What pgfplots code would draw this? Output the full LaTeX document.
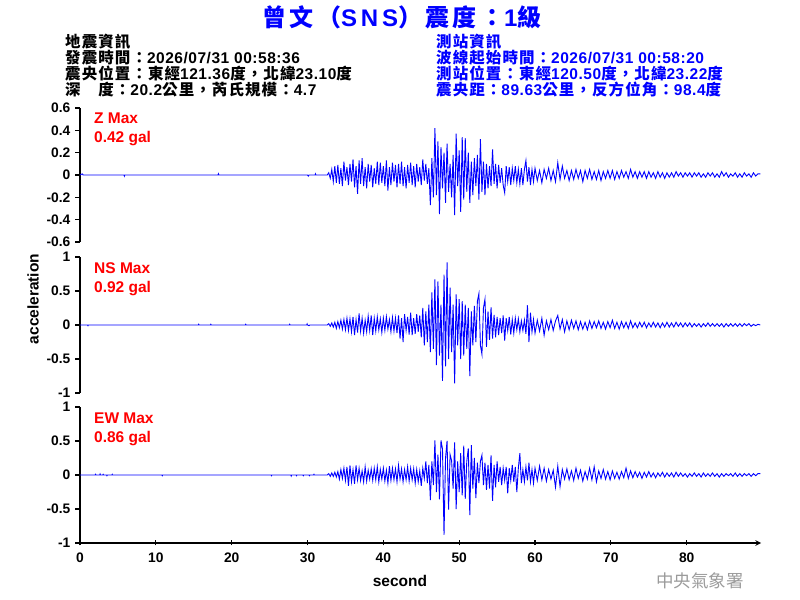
\documentclass[border=0pt]{standalone}
\usepackage{fontspec}
\setmainfont{Liberation Sans}
\newfontfamily\cjk[LetterSpace=7]{Noto Sans CJK TC}
\newfontfamily\wcjk{Noto Sans CJK TC}
\newfontfamily\tcjk[LetterSpace=14]{Noto Sans CJK TC}
\newfontfamily\lat[LetterSpace=3.4]{Liberation Sans}
\newfontfamily\tlat[LetterSpace=16]{Liberation Sans}
\usepackage{pgfplots}
\pgfplotsset{compat=1.18}
\definecolor{wm}{RGB}{155,155,155}
\pgfplotsset{
 seis/.style={
  scale only axis, width=681bp, xmin=0, xmax=89.8,
  axis y line=left, axis line style={-, line width=1.5bp, black},
  tick align=outside, major tick length=5bp,
  tick style={line width=1.2bp, black},
  yticklabel style={font=\bfseries\fontsize{13.8bp}{14bp}\selectfont, inner sep=1.5bp, xshift=-3bp},
  xticklabel style={font=\bfseries\fontsize{13.8bp}{14bp}\selectfont, yshift=-4bp},
  /pgf/number format/assume math mode=true,
 },
 trace/.style={blue, line width=0.9bp, mark=none},
}
\begin{document}
\begin{tikzpicture}[x=1bp,y=1bp]
\path[use as bounding box] (0,0) rectangle (800,600);
% ---------- Z ----------
\begin{axis}[seis, at={(80bp,358bp)}, anchor=south west, height=134bp,
  axis x line=none, ymin=-0.6, ymax=0.6, ytick={-0.6,-0.4,-0.2,0,0.2,0.4,0.6}]
\addplot[trace] coordinates {
(0,0)(0.3,0.01)(0.4,0)(5.8,0)(5.85,-0.01)(5.9,0)(18.2,0)(18.25,0.01)(18.3,0)(30.0,0)(30.1,-0.01)(30.2,0)(31.0,0)(31.05,0.01)(31.1,0)(32.6,0)
(32.8,0.02)(33.0,-0.03)(33.2,0.05)(33.4,-0.06)(33.6,0.08)(33.8,-0.07)(34.0,0.09)(34.2,-0.08)(34.4,0.06)(34.6,-0.10)
(34.8,0.12)(35.0,-0.05)(35.2,0.07)(35.4,-0.09)(35.6,0.10)(35.8,-0.06)(36.0,0.14)(36.2,-0.11)(36.4,0.08)(36.6,-0.17)
(36.8,0.13)(37.0,-0.08)(37.2,0.15)(37.4,-0.10)(37.6,0.07)(37.8,-0.12)(38.0,0.10)(38.2,-0.06)(38.4,0.09)(38.6,-0.11)
(38.8,0.06)(39.0,-0.08)(39.2,0.12)(39.4,-0.09)(39.6,0.11)(39.8,-0.07)(40.0,0.08)(40.2,-0.10)(40.4,0.13)(40.6,-0.14)
(40.8,0.07)(41.0,-0.09)(41.2,0.11)(41.4,-0.06)(41.6,0.09)(41.8,-0.11)(42.0,0.10)(42.2,-0.08)(42.4,0.12)(42.6,-0.10)
(42.8,0.07)(43.0,-0.12)(43.2,0.09)(43.4,-0.07)(43.6,0.11)(43.8,-0.09)(44.0,0.08)(44.2,-0.11)(44.4,0.10)(44.6,-0.06)
(44.8,0.07)(45.0,-0.09)(45.2,0.14)(45.4,-0.05)(45.6,0.10)(45.8,-0.08)(46.0,0.06)(46.2,-0.27)(46.4,0.15)(46.6,-0.20)
(46.8,0.42)(47.0,-0.18)(47.2,0.30)(47.4,-0.35)(47.6,0.25)(47.8,-0.12)(48.0,0.20)(48.2,-0.25)(48.4,0.28)(48.6,-0.15)
(48.8,0.10)(49.0,-0.20)(49.2,0.18)(49.4,-0.36)(49.6,0.37)(49.8,-0.10)(50.0,0.22)(50.2,-0.33)(50.4,0.34)(50.6,-0.22)
(50.8,0.33)(51.0,-0.15)(51.2,0.20)(51.4,-0.25)(51.6,0.12)(51.8,-0.18)(52.0,0.15)(52.2,-0.10)(52.4,0.18)(52.6,-0.22)
(52.8,0.32)(53.0,-0.15)(53.2,0.12)(53.4,-0.18)(53.6,0.10)(53.8,-0.12)(54.0,0.08)(54.2,-0.10)(54.4,0.23)(54.6,-0.08)
(54.8,0.10)(55.0,-0.12)(55.2,0.09)(55.4,-0.07)(55.6,0.06)(55.8,-0.09)(56.0,-0.16)(56.2,0.08)(56.4,-0.06)(56.6,0.07)
(56.8,-0.09)(57.0,0.06)(57.2,-0.05)(57.4,0.08)(57.6,-0.07)(57.8,0.05)(58.0,-0.08)(58.2,0.06)(58.4,-0.09)(58.6,0.05)
(58.8,0.13)(59.0,-0.06)(59.2,0.07)(59.4,-0.09)(59.6,0.05)(59.8,-0.06)(60.0,0.06)
(60.3,-0.05)(60.6,0.04)(60.9,-0.07)(61.2,0.05)(61.5,-0.03)(61.8,0.06)(62.1,-0.05)(62.4,0.04)(62.7,-0.06)(63.0,0.11)
(63.3,-0.04)(63.6,0.08)(63.9,-0.03)(64.2,0.04)(64.5,-0.05)(64.8,0.04)(65.1,-0.04)(65.4,0.05)(65.7,-0.03)(66.0,0.04)
(66.3,-0.06)(66.6,0.04)(66.9,-0.03)(67.2,0.05)(67.5,-0.04)(67.8,0.03)(68.1,-0.04)(68.4,0.04)(68.7,-0.05)(69.0,0.03)
(69.3,-0.03)(69.6,0.04)(69.9,-0.03)(70.2,0.04)(70.5,-0.04)(70.8,0.03)(71.1,-0.03)(71.4,0.04)(71.7,-0.02)(72.0,0.03)
(72.3,-0.03)(72.6,0.05)(72.9,-0.02)(73.2,0.03)(73.5,-0.03)(73.8,0.03)(74.1,-0.02)(74.4,0.03)(74.7,-0.03)(75.0,0.03)
(75.3,-0.02)(75.6,0.02)(75.9,-0.03)(76.2,0.03)(76.5,-0.02)(76.8,0.02)(77.1,-0.03)(77.4,0.02)(77.7,-0.02)(78.0,0.02)
(78.3,-0.02)(78.6,0.03)(78.9,-0.01)(79.2,0.02)(79.5,-0.02)(79.8,0.02)(80.1,-0.01)(80.4,0.02)(80.7,-0.02)(81.0,0.02)
(81.3,-0.01)(81.6,0.02)(81.9,-0.02)(82.2,0.01)(82.5,-0.02)(82.8,0.02)(83.1,-0.01)(83.4,0.02)(83.7,-0.02)(84.0,0.01)
(84.3,-0.02)(84.6,0.03)(84.9,-0.01)(85.2,0.02)(85.5,-0.02)(85.8,0.01)(86.1,-0.01)(86.4,0.02)(86.7,-0.02)(87.0,0.01)
(87.3,-0.02)(87.6,0.02)(87.9,-0.01)(88.2,0.01)(88.5,-0.02)(88.8,0.02)(89.1,-0.01)(89.4,0.01)(89.7,0.01)
};
\end{axis}
% ---------- NS ----------
\begin{axis}[seis, at={(80bp,207bp)}, anchor=south west, height=136bp,
  axis x line=none, ymin=-1, ymax=1, ytick={-1,-0.5,0,0.5,1}]
\addplot[trace] coordinates {
(0,0)(1.0,0)(1.05,-0.01)(1.1,0)(15.6,0)(15.65,0.01)(15.7,0)(17.2,0)(17.25,0.01)(17.3,0)(21.8,0)(21.85,0.01)(21.9,0)
(27.6,0)(27.65,0.01)(27.7,0)(29.9,0)(29.95,0.015)(30.0,0)(30.2,-0.01)(30.3,0)(32.6,0)
(32.8,0.02)(33.0,-0.02)(33.2,0.03)(33.4,-0.03)(33.6,0.04)(33.8,-0.05)(34.0,0.05)(34.2,-0.04)(34.4,0.07)(34.6,-0.06)
(34.8,0.08)(35.0,-0.07)(35.2,0.10)(35.4,-0.08)(35.6,0.09)(35.8,-0.10)(36.0,0.12)(36.2,-0.15)(36.4,0.08)(36.6,-0.11)
(36.8,0.17)(37.0,-0.09)(37.2,0.10)(37.4,-0.12)(37.6,0.07)(37.8,-0.10)(38.0,0.13)(38.2,-0.08)(38.4,0.14)(38.6,-0.15)
(38.8,0.10)(39.0,-0.09)(39.2,0.12)(39.4,-0.07)(39.6,0.09)(39.8,-0.11)(40.0,0.10)(40.2,-0.08)(40.4,0.12)(40.6,-0.06)
(40.8,0.08)(41.0,-0.10)(41.2,0.11)(41.4,-0.09)(41.6,0.10)(41.8,-0.12)(42.0,0.14)(42.2,-0.20)(42.4,0.10)(42.6,-0.25)
(42.8,0.16)(43.0,-0.08)(43.2,0.12)(43.4,-0.14)(43.6,0.18)(43.8,-0.15)(44.0,0.10)(44.2,-0.13)(44.4,0.16)(44.6,-0.10)
(44.8,0.14)(45.0,-0.18)(45.2,0.25)(45.4,-0.30)(45.6,0.20)(45.8,-0.25)(46.0,0.30)(46.2,-0.40)(46.4,0.48)(46.6,-0.35)
(46.8,0.67)(47.0,-0.59)(47.2,0.64)(47.4,-0.45)(47.6,0.30)(47.8,-0.82)(48.0,0.74)(48.2,-0.61)(48.4,0.92)(48.6,-0.50)
(48.8,0.55)(49.0,-0.40)(49.2,0.30)(49.4,-0.86)(49.6,0.45)(49.8,-0.30)(50.0,0.38)(50.2,-0.50)(50.4,0.35)(50.6,-0.45)
(50.8,0.30)(51.0,-0.35)(51.2,0.25)(51.4,-0.75)(51.6,0.20)(51.8,-0.30)(52.0,0.28)(52.2,-0.25)(52.4,0.35)(52.6,0.46)
(52.8,-0.30)(53.0,-0.43)(53.2,0.25)(53.4,0.38)(53.6,-0.32)(53.8,0.20)(54.0,-0.22)(54.2,0.26)(54.4,-0.20)(54.6,0.15)
(54.8,-0.18)(55.0,0.12)(55.2,-0.15)(55.4,0.10)(55.6,-0.12)(55.8,0.14)(56.0,-0.23)(56.2,0.10)(56.4,-0.08)(56.6,0.12)
(56.8,-0.14)(57.0,0.08)(57.2,-0.12)(57.4,0.10)(57.6,-0.07)(57.8,0.09)(58.0,-0.10)(58.2,0.06)(58.4,-0.08)(58.6,0.07)
(58.8,-0.13)(59.0,0.29)(59.2,-0.25)(59.4,0.18)(59.6,-0.10)(59.8,0.08)(60.0,-0.12)
(60.3,0.07)(60.6,-0.09)(60.9,0.10)(61.2,-0.15)(61.5,0.06)(61.8,-0.07)(62.1,0.08)(62.4,-0.08)(62.7,0.06)(63.0,0.14)
(63.3,-0.06)(63.6,0.08)(63.9,-0.10)(64.2,0.06)(64.5,-0.07)(64.8,0.07)(65.1,-0.05)(65.4,0.06)(65.7,-0.07)(66.0,0.05)
(66.3,-0.06)(66.6,0.04)(66.9,-0.07)(67.2,0.06)(67.5,-0.05)(67.8,0.05)(68.1,-0.04)(68.4,0.06)(68.7,-0.05)(69.0,0.04)
(69.3,-0.06)(69.6,0.05)(69.9,-0.04)(70.2,0.07)(70.5,-0.05)(70.8,0.04)(71.1,-0.06)(71.4,0.05)(71.7,-0.04)(72.0,0.04)
(72.3,-0.05)(72.6,0.06)(72.9,-0.04)(73.2,0.03)(73.5,-0.04)(73.8,0.04)(74.1,-0.03)(74.4,0.04)(74.7,-0.04)(75.0,0.03)
(75.3,-0.03)(75.6,0.04)(75.9,-0.03)(76.2,0.03)(76.5,-0.04)(76.8,0.03)(77.1,-0.03)(77.4,0.04)(77.7,-0.03)(78.0,0.03)
(78.3,-0.03)(78.6,0.04)(78.9,-0.02)(79.2,0.03)(79.5,-0.03)(79.8,0.03)(80.1,-0.02)(80.4,0.03)(80.7,-0.03)(81.0,0.02)
(81.3,-0.02)(81.6,0.02)(81.9,-0.03)(82.2,0.02)(82.5,-0.02)(82.8,0.03)(83.1,-0.02)(83.4,0.02)(83.7,-0.02)(84.0,0.02)
(84.3,-0.02)(84.6,0.02)(84.9,-0.03)(85.2,0.02)(85.5,-0.02)(85.8,0.02)(86.1,-0.02)(86.4,0.02)(86.7,-0.02)(87.0,0.02)
(87.3,-0.02)(87.6,0.02)(87.9,-0.01)(88.2,0.02)(88.5,-0.02)(88.8,0.01)(89.1,-0.01)(89.4,0.01)(89.7,0.00)
};
\end{axis}
% ---------- EW ----------
\begin{axis}[seis, at={(80bp,57bp)}, anchor=south west, height=136bp,
  axis x line=bottom, ymin=-1, ymax=1, ytick={-1,-0.5,0,0.5,1},
  xtick={0,10,20,30,40,50,60,70,80}]
\addplot[trace] coordinates {
(0,0)(2.0,0)(2.05,0.01)(2.1,0)(2.6,0)(2.65,0.015)(2.7,0)(3.0,0)(3.05,0.01)(3.1,0)(3.5,0)(3.55,-0.01)(3.6,0)(4.2,0)(4.25,0.01)(4.3,0)
(10.8,0)(10.85,-0.01)(10.9,0)(25.2,0)(25.25,-0.01)(25.3,0)(27.8,0)(27.85,-0.015)(27.9,0)(28.5,0)(28.55,-0.01)(28.6,0)
(29.4,0)(29.45,-0.01)(29.5,0)(30.2,0)(30.25,-0.01)(30.3,0)(30.8,0)(30.85,0.01)(30.9,0)(32.6,0)
(32.8,0.02)(33.0,-0.02)(33.2,0.03)(33.4,-0.02)(33.6,0.04)(33.8,-0.03)(34.0,0.05)(34.2,-0.06)(34.4,0.08)(34.6,-0.05)
(34.8,0.10)(35.0,-0.08)(35.2,0.12)(35.4,-0.16)(35.6,0.14)(35.8,-0.10)(36.0,0.08)(36.2,-0.13)(36.4,0.14)(36.6,-0.07)
(36.8,0.10)(37.0,-0.08)(37.2,0.06)(37.4,-0.10)(37.6,0.12)(37.8,-0.09)(38.0,0.07)(38.2,-0.06)(38.4,0.09)(38.6,-0.08)
(38.8,0.10)(39.0,-0.07)(39.2,0.12)(39.4,-0.10)(39.6,0.08)(39.8,-0.06)(40.0,0.10)(40.2,-0.09)(40.4,0.07)(40.6,-0.12)
(40.8,0.13)(41.0,-0.08)(41.2,0.10)(41.4,-0.07)(41.6,0.09)(41.8,-0.10)(42.0,0.14)(42.2,-0.06)(42.4,0.09)(42.6,-0.10)
(42.8,0.08)(43.0,-0.07)(43.2,0.12)(43.4,-0.09)(43.6,0.10)(43.8,-0.07)(44.0,0.09)(44.2,-0.12)(44.4,0.08)(44.6,-0.10)
(44.8,0.06)(45.0,-0.16)(45.2,0.10)(45.4,-0.05)(45.6,0.20)(45.8,-0.12)(46.0,0.15)(46.2,-0.37)(46.4,0.20)(46.6,-0.15)
(46.8,0.51)(47.0,-0.25)(47.2,0.30)(47.4,-0.36)(47.6,0.51)(47.8,0.38)(48.0,-0.88)(48.2,0.25)(48.4,0.50)(48.6,-0.51)
(48.8,0.30)(49.0,0.21)(49.2,-0.20)(49.4,0.48)(49.6,-0.50)(49.8,0.20)(50.0,-0.25)(50.2,0.32)(50.4,-0.30)(50.6,0.43)
(50.8,-0.35)(51.0,0.20)(51.2,0.39)(51.4,-0.59)(51.6,0.44)(51.8,-0.20)(52.0,0.25)(52.2,-0.34)(52.4,0.18)(52.6,-0.12)
(52.8,0.20)(53.0,0.29)(53.2,-0.15)(53.4,0.18)(53.6,-0.22)(53.8,0.15)(54.0,-0.20)(54.2,0.29)(54.4,-0.38)(54.6,0.15)
(54.8,-0.18)(55.0,0.20)(55.2,-0.10)(55.4,0.12)(55.6,-0.15)(55.8,0.10)(56.0,-0.08)(56.2,0.12)(56.4,-0.27)(56.6,0.10)
(56.8,-0.08)(57.0,0.15)(57.2,-0.10)(57.4,0.12)(57.6,-0.25)(57.8,0.10)(58.0,0.32)(58.2,-0.12)(58.4,0.08)(58.6,-0.10)
(58.8,0.12)(59.0,-0.08)(59.2,0.18)(59.4,-0.10)(59.6,0.08)(59.8,-0.12)(60.0,0.10)
(60.3,-0.08)(60.6,0.13)(60.9,-0.07)(61.2,0.10)(61.5,-0.09)(61.8,0.08)(62.1,-0.06)(62.4,0.07)(62.7,-0.18)(63.0,0.13)
(63.3,-0.17)(63.6,0.08)(63.9,-0.06)(64.2,0.09)(64.5,-0.07)(64.8,0.06)(65.1,-0.08)(65.4,0.10)(65.7,-0.05)(66.0,0.07)
(66.3,-0.09)(66.6,0.05)(66.9,-0.06)(67.2,0.10)(67.5,-0.07)(67.8,0.12)(68.1,-0.10)(68.4,0.06)(68.7,-0.05)(69.0,0.08)
(69.3,-0.06)(69.6,0.05)(69.9,-0.07)(70.2,0.06)(70.5,-0.05)(70.8,0.04)(71.1,-0.06)(71.4,0.05)(71.7,-0.04)(72.0,0.10)
(72.3,-0.05)(72.6,0.06)(72.9,-0.04)(73.2,0.05)(73.5,-0.03)(73.8,0.04)(74.1,-0.05)(74.4,0.04)(74.7,-0.03)(75.0,0.05)
(75.3,-0.03)(75.6,0.03)(75.9,-0.04)(76.2,0.03)(76.5,-0.02)(76.8,0.04)(77.1,-0.03)(77.4,0.03)(77.7,-0.02)(78.0,0.03)
(78.3,-0.03)(78.6,0.04)(78.9,-0.02)(79.2,0.03)(79.5,-0.02)(79.8,0.02)(80.1,-0.03)(80.4,0.02)(80.7,-0.02)(81.0,0.03)
(81.3,-0.02)(81.6,0.02)(81.9,-0.03)(82.2,0.03)(82.5,-0.02)(82.8,0.02)(83.1,-0.02)(83.4,0.03)(83.7,-0.02)(84.0,0.02)
(84.3,-0.03)(84.6,0.02)(84.9,-0.02)(85.2,0.02)(85.5,-0.01)(85.8,0.02)(86.1,-0.02)(86.4,0.03)(86.7,-0.02)(87.0,0.02)
(87.3,-0.02)(87.6,0.02)(87.9,-0.01)(88.2,0.02)(88.5,-0.02)(88.8,0.02)(89.1,-0.01)(89.4,0.02)(89.7,0.02)
};
\end{axis}
% ---------- texts ----------
\node[anchor=base, text=blue, inner sep=0pt] at (402,573.5)
  {\fontsize{24bp}{24bp}\selectfont\bfseries{\tcjk 曾文（}{\tlat SNS}{\tcjk ）震度：}{\tlat 1}{\tcjk 級}};
\begin{scope}[every node/.style={anchor=base west, inner sep=0pt}]
\node at (65,552.5) {\fontsize{15.5bp}{16bp}\selectfont\bfseries{\cjk 地震資訊}};
\node at (65,536.5) {\fontsize{15.5bp}{16bp}\selectfont\bfseries{\cjk 發震時間：}{\lat 2026/07/31 00:58:36}};
\node at (65,520.5) {\fontsize{15.5bp}{16bp}\selectfont\bfseries{\cjk 震央位置：東經}{\lat 121.36}{\cjk 度，北緯}{\lat 23.10}{\cjk 度}};
\node at (65,504.5) {\fontsize{15.5bp}{16bp}\selectfont\bfseries{\cjk 深　度：}{\lat 20.2}{\cjk 公里，芮氏規模：}{\lat 4.7}};
\node[text=blue] at (436,552.5) {\fontsize{15.5bp}{16bp}\selectfont\bfseries{\cjk 測站資訊}};
\node[text=blue] at (436,536.5) {\fontsize{15.5bp}{16bp}\selectfont\bfseries{\cjk 波線起始時間：}{\lat 2026/07/31 00:58:20}};
\node[text=blue] at (436,520.5) {\fontsize{15.5bp}{16bp}\selectfont\bfseries{\cjk 測站位置：東經}{\lat 120.50}{\cjk 度，北緯}{\lat 23.22}{\cjk 度}};
\node[text=blue] at (436,504.5) {\fontsize{15.5bp}{16bp}\selectfont\bfseries{\cjk 震央距：}{\lat 89.63}{\cjk 公里，反方位角：}{\lat 98.4}{\cjk 度}};
\node[text=red] at (94,476.5) {\fontsize{15.5bp}{16bp}\selectfont\bfseries Z Max};
\node[text=red] at (94,457.5) {\fontsize{15.5bp}{16bp}\selectfont\bfseries 0.42 gal};
\node[text=red] at (94,326.5) {\fontsize{15.5bp}{16bp}\selectfont\bfseries NS Max};
\node[text=red] at (94,307.5) {\fontsize{15.5bp}{16bp}\selectfont\bfseries 0.92 gal};
\node[text=red] at (94,176.5) {\fontsize{15.5bp}{16bp}\selectfont\bfseries EW Max};
\node[text=red] at (94,157.5) {\fontsize{15.5bp}{16bp}\selectfont\bfseries 0.86 gal};
\end{scope}
\node[rotate=90, anchor=center, inner sep=0pt] at (33,301)
  {\fontsize{15.5bp}{16bp}\selectfont\bfseries acceleration};
\node[anchor=base, inner sep=0pt] at (400,13.5)
  {\fontsize{15.5bp}{16bp}\selectfont\bfseries second};
\node[anchor=base west, inner sep=0pt, text=wm] at (656,12.5)
  {\fontsize{17.5bp}{18bp}\selectfont{\wcjk 中央氣象署}};
\end{tikzpicture}
\end{document}
